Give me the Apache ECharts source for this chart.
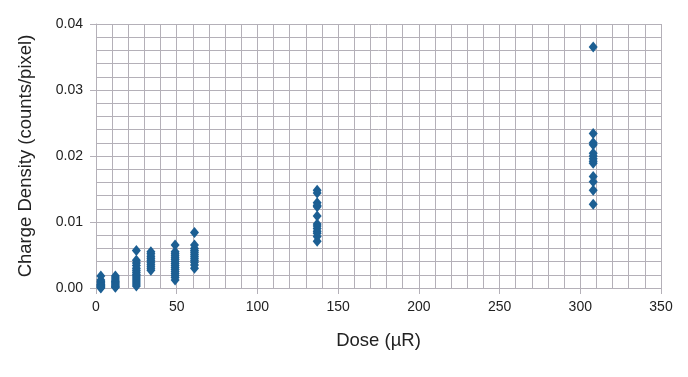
<!DOCTYPE html>
<html>
<head>
<meta charset="utf-8">
<script src="https://cdn.jsdelivr.net/npm/echarts@6/dist/echarts.min.js"></script>
<style>
  html, body { margin: 0; padding: 0; background: #fff; }
  #chart { width: 688px; height: 377px; }
</style>
</head>
<body>
<div id="chart"></div>
<script>
// dose groups (µR) and charge density readings per group
const doses = [3, 12, 25, 34, 49, 61, 137, 308];
const densities = [
  [0.0018, 0.0012, 0.001, 0.0008, 0.0006, 0.0005, 0.0004, 0.0003, 0.0002, 0.0001, 0.0],
  [0.0018, 0.0015, 0.0012, 0.001, 0.0008, 0.0006, 0.0004, 0.0002, 0.0001],
  [0.0057, 0.0042, 0.0038, 0.0034, 0.003, 0.0027, 0.0024, 0.0021, 0.0018, 0.0015, 0.0012, 0.0009, 0.0006, 0.0003],
  [0.0055, 0.0052, 0.0048, 0.0045, 0.0042, 0.0039, 0.0036, 0.0033, 0.003, 0.0027],
  [0.0065, 0.0055, 0.0052, 0.0049, 0.0046, 0.0043, 0.004, 0.0037, 0.0034, 0.0031, 0.0028, 0.0025, 0.0022, 0.0019, 0.0016, 0.0012],
  [0.0084, 0.0065, 0.006, 0.0057, 0.0054, 0.0051, 0.0048, 0.0045, 0.0042, 0.0039, 0.0035, 0.003],
  [0.0148, 0.0144, 0.0129, 0.0125, 0.0123, 0.0109, 0.0097, 0.0094, 0.009, 0.0086, 0.0083, 0.0078, 0.0071],
  [0.0365, 0.0234, 0.022, 0.0217, 0.0204, 0.02, 0.0196, 0.0192, 0.0189, 0.0169, 0.0161, 0.0148, 0.0127]
];

const points = [];
doses.forEach((d, i) => densities[i].forEach((v) => points.push([d, v])));

const chart = echarts.init(document.getElementById('chart'));
const font = "'Liberation Sans', Arial, sans-serif";
const gridColor = '#b4b0b8';

chart.setOption({
  animation: false,
  grid: { left: 96, right: 27, top: 24, bottom: 89, containLabel: false },
  xAxis: {
    type: 'value',
    min: 0,
    max: 350,
    interval: 50,
    name: 'Dose (µR)',
    nameLocation: 'middle',
    nameGap: 43,
    nameTextStyle: { fontFamily: font, fontSize: 18.5, color: '#222' },
    axisLine: { show: true, lineStyle: { color: gridColor, width: 1 } },
    axisTick: { show: true, length: 6, lineStyle: { color: gridColor } },
    axisLabel: { fontFamily: font, fontSize: 14, color: '#222', margin: 12 },
    splitLine: { show: true, lineStyle: { color: gridColor, width: 1 } },
    minorTick: { show: false, splitNumber: 5 },
    minorSplitLine: { show: true, lineStyle: { color: gridColor, width: 1 } }
  },
  yAxis: {
    type: 'value',
    min: 0,
    max: 0.04,
    interval: 0.01,
    name: 'Charge Density (counts/pixel)',
    nameLocation: 'middle',
    nameGap: 61,
    nameTextStyle: { fontFamily: font, fontSize: 18.5, color: '#222' },
    axisLine: { show: true, lineStyle: { color: gridColor, width: 1 } },
    axisTick: { show: true, length: 6, lineStyle: { color: gridColor } },
    axisLabel: {
      fontFamily: font, fontSize: 14, color: '#222', margin: 13,
      formatter: (v) => v.toFixed(2)
    },
    splitLine: { show: true, lineStyle: { color: gridColor, width: 1 } },
    minorTick: { show: false, splitNumber: 5 },
    minorSplitLine: { show: true, lineStyle: { color: gridColor, width: 1 } }
  },
  series: [{
    type: 'scatter',
    data: points,
    symbol: 'diamond',
    symbolSize: [9, 11],
    itemStyle: { color: '#1c5f93', opacity: 1 }
  }]
});
</script>
</body>
</html>
